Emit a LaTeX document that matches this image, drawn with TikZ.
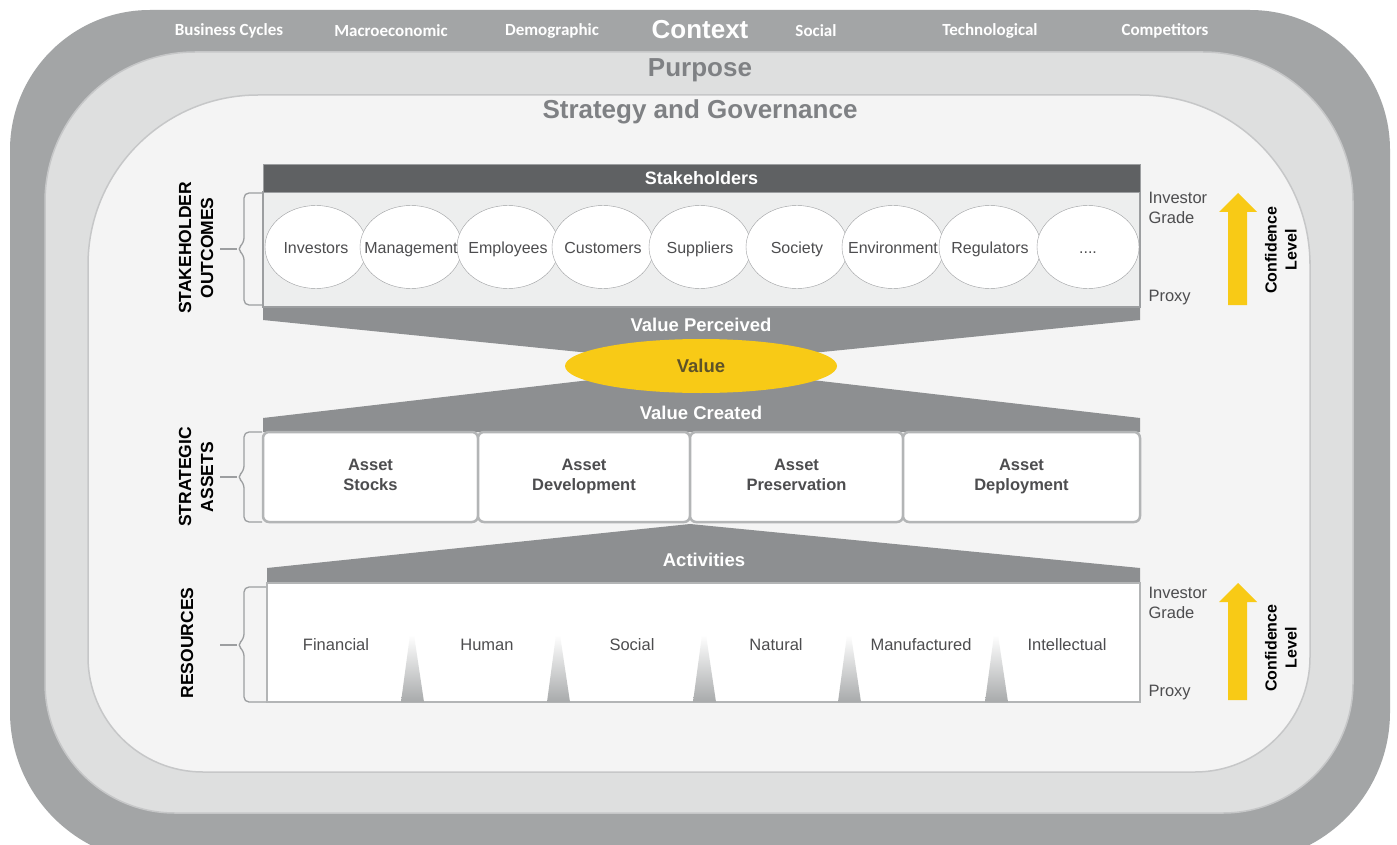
\documentclass[tikz,border=0pt]{standalone}
\usepackage{fontspec}
\setmainfont{Liberation Sans}
\newfontfamily\contextfont{Carlito}
\usepackage{tikz}
\usetikzlibrary{shapes.geometric}

\definecolor{ctxgray}{HTML}{A3A5A6}
\definecolor{purposegray}{HTML}{DEDFDF}
\definecolor{stratgray}{HTML}{F4F4F4}
\definecolor{rimgray}{HTML}{C6C7C8}
\definecolor{headgray}{HTML}{5F6163}
\definecolor{funnelgray}{HTML}{8D8F91}
\definecolor{bodygray}{HTML}{EDEEEE}
\definecolor{linegray}{HTML}{9C9EA0}
\definecolor{boxgray}{HTML}{B3B5B6}
\definecolor{sepgray}{HTML}{A8AAAB}
\definecolor{titlegray}{HTML}{7F8184}
\definecolor{textgray}{HTML}{4D4D4F}
\definecolor{valueyellow}{HTML}{F8CA16}
\definecolor{valuetext}{HTML}{5E5228}

\begin{document}
\begin{tikzpicture}[%
            x=1pt,
            y=-1pt,
            ctxlabel/.style={
                text=white,
                font=\contextfont\bfseries\fontsize{17}{20}\selectfont,
            },
            layertitle/.style={
                text=titlegray,
                font=\bfseries\fontsize{26}{30}\selectfont,
            },
            headbar/.style={
                fill=headgray,
                draw=linegray,
                minimum width=877pt,
                minimum height=28pt,
                text=white,
                font=\bfseries\fontsize{18}{21}\selectfont,
            },
            stkbody/.style={
                fill=bodygray,
                draw=linegray,
                line width=1.2pt,
                minimum width=877pt,
                minimum height=115pt,
            },
            stakeholder/.style={
                ellipse,
                draw=linegray,
                fill=white,
                minimum width=102pt,
                minimum height=83pt,
                inner sep=0pt,
            },
            stktext/.style={
                inner sep=0pt,
                text height=12pt,
                text depth=0pt,
                text=textgray,
                font=\fontsize{16}{19}\selectfont,
            },
            funnellabel/.style={
                text=white,
                font=\bfseries\fontsize{18.5}{21}\selectfont,
            },
            valuenode/.style={
                ellipse,
                fill=valueyellow,
                minimum width=272pt,
                minimum height=54pt,
                text=valuetext,
                font=\bfseries\fontsize{18.5}{21}\selectfont,
            },
            assetbox/.style={
                draw=boxgray,
                fill=white,
                line width=2.5pt,
                rounded corners=6pt,
                minimum height=90pt,
                align=center,
                text=textgray,
                execute at end node={\vphantom{p}},
                font=\bfseries\fontsize{16.5}{20}\selectfont,
            },
            resbody/.style={
                draw=boxgray,
                fill=white,
                line width=1.5pt,
                minimum width=873pt,
                minimum height=119pt,
            },
            reslabel/.style={
                text=textgray,
                font=\fontsize{16.5}{19}\selectfont,
            },
            sidelabel/.style={
                rotate=90,
                align=center,
                text=black,
                font=\bfseries\fontsize{17.5}{22}\selectfont,
            },
            gradelabel/.style={
                anchor=west,
                align=left,
                text=textgray,
                font=\fontsize{16.5}{19.5}\selectfont,
            },
            conflabel/.style={
                rotate=90,
                align=center,
                text=black,
                font=\bfseries\fontsize{16}{20}\selectfont,
            },
            bracket/.style={
                draw=linegray,
                line width=1.3pt,
                rounded corners=5pt,
            },
        ]
        \useasboundingbox (0,0) rectangle (1397,845);
        \clip (0,0) rectangle (1397,845);
        \fill[white] (0,0) rectangle (1397,845);

        \fill[ctxgray] (10,430) [rounded corners=140pt] |- (700,10) -| (1390,430)
            [rounded corners=150pt] |- (700,862) -| (10,430) -- cycle;
        \filldraw[fill=purposegray, draw=rimgray, line width=1.5pt] (45,430) [rounded corners=150pt] |- (700,52) -| (1353,430)
            [rounded corners=130pt] |- (700,813) -| (45,430) -- cycle;
        \filldraw[fill=stratgray, draw=rimgray, line width=1.5pt] (88,430) [rounded corners=170pt] |- (700,95) -| (1310,430)
            [rounded corners=115pt] |- (700,772) -| (88,430) -- cycle;

        \node[ctxlabel] (cycles) at (229,31) {Business Cycles};
        \node[ctxlabel] (macro) at (391,31) {Macroeconomic};
        \node[ctxlabel] (demo) at (552,31) {Demographic};
        \node[text=white, font=\bfseries\fontsize{26}{30}\selectfont] (context) at (700,30) {Context};
        \node[ctxlabel] (social) at (816,31) {Social};
        \node[ctxlabel] (techno) at (990,31) {Technological};
        \node[ctxlabel] (compet) at (1165,31) {Competitors};

        \node[layertitle] (purpose) at (700,70) {Purpose};
        \node[layertitle] (strategy) at (700,112) {Strategy and Governance};

        \fill[funnelgray] (263,307) -- (1140,307) -- (1140,320) -- (812,353) -- (590,353) -- (263,320) -- cycle;
        \fill[funnelgray] (263,432) -- (263,418) -- (590,380) -- (812,380) -- (1140,418) -- (1140,432) -- cycle;
        \fill[funnelgray] (267,583) -- (267,568) -- (690,524) -- (1140,568) -- (1140,583) -- cycle;

        \node[stkbody] (stkbody) at (701.5,249.5) {};
        \node[headbar] (stkhead) at (701.5,178) {Stakeholders};
        \node[stakeholder] (investors) at (316,247) {};
        \node[stakeholder] (management) at (411,247) {};
        \node[stakeholder] (employees) at (508,247) {};
        \node[stakeholder] (customers) at (603,247) {};
        \node[stakeholder] (suppliers) at (700,247) {};
        \node[stakeholder] (society) at (797,247) {};
        \node[stakeholder] (environment) at (893,247) {};
        \node[stakeholder] (regulators) at (990,247) {};
        \node[stakeholder] (others) at (1088,247) {};
        \node[stktext] (investorslbl) at (investors) {Investors};
        \node[stktext] (managementlbl) at (management) {Management};
        \node[stktext] (employeeslbl) at (employees) {Employees};
        \node[stktext] (customerslbl) at (customers) {Customers};
        \node[stktext] (supplierslbl) at (suppliers) {Suppliers};
        \node[stktext] (societylbl) at (society) {Society};
        \node[stktext] (environmentlbl) at (environment) {Environment};
        \node[stktext] (regulatorslbl) at (regulators) {Regulators};
        \node[stktext] (otherslbl) at (others) {....};

        \node[funnellabel] (perceived) at (701,325) {Value Perceived};
        \node[valuenode] (value) at (701,366) {Value};
        \node[funnellabel] (created) at (701,413) {Value Created};

        \node[assetbox, minimum width=215pt] (stocks) at (370.5,477) {Asset\\Stocks};
        \node[assetbox, minimum width=212pt] (development) at (584,477) {Asset\\Development};
        \node[assetbox, minimum width=213pt] (preservation) at (796.5,477) {Asset\\Preservation};
        \node[assetbox, minimum width=237pt] (deployment) at (1021.5,477) {Asset\\Deployment};

        \node[funnellabel] (activities) at (704,560) {Activities};
        \node[resbody] (resbody) at (703.5,642.5) {};
        \shade[top color=white, bottom color=sepgray] (401,702) -- (410,635) -- (414,635) -- (424,702) -- cycle;
        \shade[top color=white, bottom color=sepgray] (547,702) -- (556,635) -- (560,635) -- (570,702) -- cycle;
        \shade[top color=white, bottom color=sepgray] (693,702) -- (702,635) -- (706,635) -- (716,702) -- cycle;
        \shade[top color=white, bottom color=sepgray] (838,702) -- (847,635) -- (851,635) -- (861,702) -- cycle;
        \shade[top color=white, bottom color=sepgray] (985,702) -- (994,635) -- (998,635) -- (1008,702) -- cycle;
        \node[reslabel] (financial) at (336,645) {Financial};
        \node[reslabel] (human) at (487,645) {Human};
        \node[reslabel] (ressocial) at (632,645) {Social};
        \node[reslabel] (natural) at (776,645) {Natural};
        \node[reslabel] (manufactured) at (921,645) {Manufactured};
        \node[reslabel] (intellectual) at (1067,645) {Intellectual};

        \node[sidelabel] (outcomes) at (196,248) {STAKEHOLDER\\OUTCOMES};
        \node[sidelabel] (assets) at (196,477) {STRATEGIC\\ASSETS};
        \node[sidelabel] (resources) at (187,643) {RESOURCES};
        \draw[bracket] (262,193) -- (244,193) -- (244,243) -- (237,249) -- (244,255) -- (244,305) -- (262,305);
        \draw[bracket] (237,249) -- (220,249);
        \draw[bracket] (262,432) -- (244,432) -- (244,471) -- (237,477) -- (244,483) -- (244,522) -- (262,522);
        \draw[bracket] (237,477) -- (220,477);
        \draw[bracket] (266,587) -- (244,587) -- (244,639) -- (237,645) -- (244,651) -- (244,702) -- (266,702);
        \draw[bracket] (237,645) -- (220,645);

        \node[gradelabel] (grade) at (1145,208) {Investor\\Grade};
        \node[gradelabel] (proxy) at (1145,298) {Proxy};
        \fill[valueyellow] (1228,305) -- (1228,212) -- (1219,212) -- (1238,193) -- (1257,212) -- (1247,212) -- (1247,305) -- cycle;
        \node[conflabel] (confidence) at (1281,250) {Confidence\\Level};

        \node[gradelabel] (resgrade) at (1145,603) {Investor\\Grade};
        \node[gradelabel] (resproxy) at (1145,693) {Proxy};
        \fill[valueyellow] (1228,700) -- (1228,602) -- (1219,602) -- (1238,583) -- (1257,602) -- (1247,602) -- (1247,700) -- cycle;
        \node[conflabel] (resconfidence) at (1281,648) {Confidence\\Level};
    \end{tikzpicture}
\end{document}
